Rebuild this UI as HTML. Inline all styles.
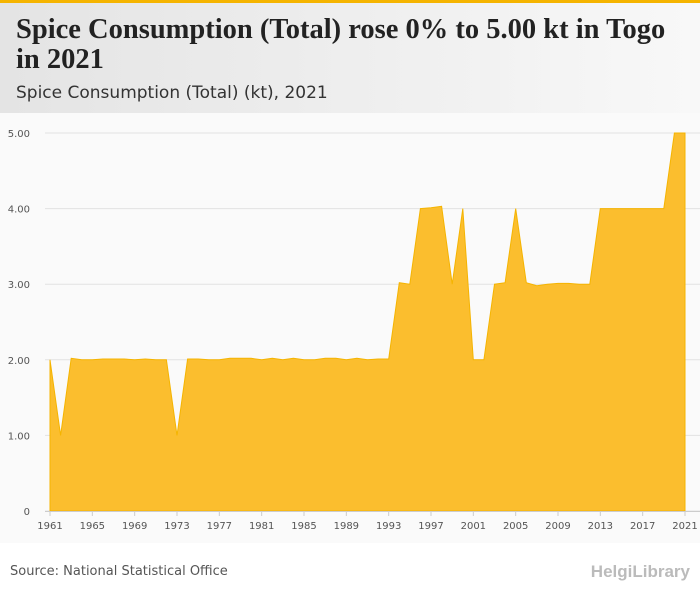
<!DOCTYPE html>
<html><head><meta charset="utf-8"><style>
body{margin:0;width:700px;height:596px;background:#fff;font-family:"Liberation Sans",sans-serif;overflow:hidden}
#hdr{position:absolute;left:0;top:0;width:700px;height:113px;background:linear-gradient(90deg,#e4e4e4,#f8f8f8);border-top:3px solid #f5b400;box-sizing:border-box}
#title{position:absolute;left:16px;top:12px;font:bold 28.5px/30px "Liberation Serif",serif;color:#222;width:690px;white-space:nowrap}
#sub{position:absolute;left:16px;top:80px;font:17px "DejaVu Sans",sans-serif;color:#333}
#plot{position:absolute;left:0;top:113px;width:700px;height:430px;background:#fafafa}
#src{position:absolute;left:10px;top:564px;font:13px "DejaVu Sans",sans-serif;color:#555}
#logo{position:absolute;right:10px;top:562px;font:bold 17px "Liberation Sans",sans-serif;color:#bbb}
</style></head><body>
<div id="hdr">
<div id="title">Spice Consumption (Total) rose 0% to 5.00 kt in Togo<br>in 2021</div>
<div id="sub">Spice Consumption (Total) (kt), 2021</div>
</div>
<div id="plot"></div>
<svg id="chart" width="700" height="596" style="position:absolute;left:0;top:0"></svg>
<div id="src">Source: National Statistical Office</div>
<div id="logo">HelgiLibrary</div>
<script>
const years=[];for(let y=1961;y<=2021;y++)years.push(y);
const values=[2,1,2.02,2,2,2.01,2.01,2.01,2,2.01,2,2,1,2.01,2.01,2,2,2.02,2.02,2.02,2,2.02,2,2.02,2,2,2.02,2.02,2,2.02,2,2.01,2.01,3.02,3,4,4.01,4.03,3,4,2,2,3,3.02,4,3.02,2.98,3,3.01,3.01,3,3,4,4,4,4,4,4,4,5,5];
const yTicks=[0,1,2,3,4,5];
const yTickLabels=["0","1.00","2.00","3.00","4.00","5.00"];
const xTicks=[1961,1965,1969,1973,1977,1981,1985,1989,1993,1997,2001,2005,2009,2013,2017,2021];
const ns="http://www.w3.org/2000/svg",svg=document.getElementById('chart');
const X=y=>50+(y-1961)*(635/60), Y=v=>511-v*75.6;
function mk(t,a){const e=document.createElementNS(ns,t);for(const k in a)e.setAttribute(k,a[k]);svg.appendChild(e);return e;}
yTicks.forEach((t,i)=>{
 const l=mk('line',{x1:45,x2:700,y1:Y(t),y2:Y(t),stroke:'#e2e2e2','stroke-width':1});
 
 
 const tx=mk('text',{x:30,y:Y(t)+4,'text-anchor':'end','font-size':10,fill:'#555','font-family':'DejaVu Sans, sans-serif'});
 tx.textContent=yTickLabels[i];
 
 
});
let d='M'+X(years[0])+','+Y(0);
years.forEach((y,i)=>d+='L'+X(y).toFixed(1)+','+Y(values[i]).toFixed(1));
d+='L'+X(years[years.length-1])+','+Y(0)+'Z';
const a=mk('path',{d:d,fill:'#fbbe2e',stroke:'#f5b400','stroke-width':1});


const ax=mk('line',{x1:45,x2:700,y1:511.5,y2:511.5,stroke:'#ccc'});


xTicks.forEach(y=>{
 const tk=mk('line',{x1:X(y),x2:X(y),y1:511,y2:516,stroke:'#ccc'});
 
 
 const t=mk('text',{x:X(y),y:529,'text-anchor':'middle','font-size':10,fill:'#555','font-family':'DejaVu Sans, sans-serif'});
 t.textContent=y;
 
 
});
</script>
</body></html>
